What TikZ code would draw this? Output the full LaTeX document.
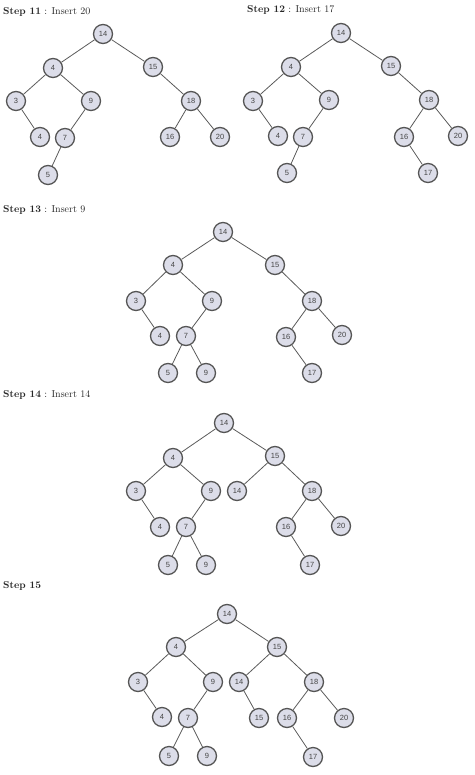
\documentclass[tikz,border=0pt]{standalone}
\usepackage{fontspec}
\newfontfamily\numfont{Liberation Sans}
\definecolor{nodefill}{HTML}{DCDDE9}
\definecolor{nodeline}{HTML}{555555}
\definecolor{edgecol}{HTML}{5A5A5A}
\definecolor{txtcol}{HTML}{444444}
\begin{document}
\begin{tikzpicture}[x=1pt,y=-1pt,
  bn/.style={circle,draw=nodeline,fill=nodefill,line width=1.3pt,minimum size=19pt,inner sep=0pt,
    font=\numfont\fontsize{7.5}{8}\selectfont,text=txtcol},
  ed/.style={draw=edgecol,line width=0.8pt},
  ttl/.style={anchor=west,inner sep=0pt,font=\fontsize{10}{12}\selectfont,text=black!85}]
\useasboundingbox (0,0) rectangle (474,775);

% ---------- Step 11 ----------
\node[ttl] (t11) at (3,12) {\textbf{Step 11} : Insert 20};
\node[bn] (a14) at (103,34) {14};
\node[bn] (a4) at (53,68) {4};
\node[bn] (a15) at (153,67) {15};
\node[bn] (a3) at (16,101) {3};
\node[bn] (a9) at (91,101) {9};
\node[bn] (a18) at (191,101) {18};
\node[bn] (a4b) at (40,137) {4};
\node[bn] (a7) at (65,138) {7};
\node[bn] (a16) at (170,137) {16};
\node[bn] (a20) at (220,137) {20};
\node[bn] (a5) at (48,175) {5};
\draw[ed] (a14)--(a4) (a14)--(a15) (a4)--(a3) (a4)--(a9) (a3)--(a4b) (a9)--(a7) (a7)--(a5)
  (a15)--(a18) (a18)--(a16) (a18)--(a20);

% ---------- Step 12 ----------
\node[ttl] (t12) at (247,10) {\textbf{Step 12} : Insert 17};
\node[bn] (b14) at (341,33) {14};
\node[bn] (b4) at (291,67) {4};
\node[bn] (b15) at (391,66) {15};
\node[bn] (b3) at (253,101) {3};
\node[bn] (b9) at (329,100) {9};
\node[bn] (b18) at (429,100) {18};
\node[bn] (b4b) at (278,136) {4};
\node[bn] (b7) at (303,137) {7};
\node[bn] (b16) at (404,137) {16};
\node[bn] (b20) at (458,136) {20};
\node[bn] (b5) at (287,173) {5};
\node[bn] (b17) at (428,173) {17};
\draw[ed] (b14)--(b4) (b14)--(b15) (b4)--(b3) (b4)--(b9) (b3)--(b4b) (b9)--(b7) (b7)--(b5)
  (b15)--(b18) (b18)--(b16) (b18)--(b20) (b16)--(b17);

% ---------- Step 13 ----------
\node[ttl] (t13) at (3,210) {\textbf{Step 13} : Insert 9};
\node[bn] (c14) at (223,232) {14};
\node[bn] (c4) at (173,265) {4};
\node[bn] (c15) at (275,265) {15};
\node[bn] (c3) at (136,301) {3};
\node[bn] (c9) at (212,301) {9};
\node[bn] (c18) at (312,301) {18};
\node[bn] (c4b) at (160,336) {4};
\node[bn] (c7) at (186,336) {7};
\node[bn] (c16) at (286,337) {16};
\node[bn] (c20) at (342,335) {20};
\node[bn] (c5) at (168,373) {5};
\node[bn] (c9b) at (206,373) {9};
\node[bn] (c17) at (312,373) {17};
\draw[ed] (c14)--(c4) (c14)--(c15) (c4)--(c3) (c4)--(c9) (c3)--(c4b) (c9)--(c7) (c7)--(c5) (c7)--(c9b)
  (c15)--(c18) (c18)--(c16) (c18)--(c20) (c16)--(c17);

% ---------- Step 14 ----------
\node[ttl] (t14) at (3,395) {\textbf{Step 14} : Insert 14};
\node[bn] (d14) at (224,423) {14};
\node[bn] (d4) at (173,458) {4};
\node[bn] (d15) at (275,456) {15};
\node[bn] (d3) at (136,491) {3};
\node[bn] (d9) at (211,491) {9};
\node[bn] (d14b) at (237,491) {14};
\node[bn] (d18) at (312,491) {18};
\node[bn] (d4b) at (160,527) {4};
\node[bn] (d7) at (186,527) {7};
\node[bn] (d16) at (286,527) {16};
\node[bn] (d20) at (341,526) {20};
\node[bn] (d5) at (168,565) {5};
\node[bn] (d9b) at (206,565) {9};
\node[bn] (d17) at (310,565) {17};
\draw[ed] (d14)--(d4) (d14)--(d15) (d4)--(d3) (d4)--(d9) (d3)--(d4b) (d9)--(d7) (d7)--(d5) (d7)--(d9b)
  (d15)--(d14b) (d15)--(d18) (d18)--(d16) (d18)--(d20) (d16)--(d17);

% ---------- Step 15 ----------
\node[ttl] (t15) at (3,586) {\textbf{Step 15}};
\node[bn] (e14) at (227,614) {14};
\node[bn] (e4) at (176,647) {4};
\node[bn] (e15) at (277,647) {15};
\node[bn] (e3) at (138,682) {3};
\node[bn] (e9) at (213,682) {9};
\node[bn] (e14b) at (239,682) {14};
\node[bn] (e18) at (314,682) {18};
\node[bn] (e4b) at (162,717) {4};
\node[bn] (e7) at (188,718) {7};
\node[bn] (e15b) at (259,718) {15};
\node[bn] (e16) at (287,718) {16};
\node[bn] (e20) at (344,718) {20};
\node[bn] (e5) at (169,756) {5};
\node[bn] (e9b) at (207,756) {9};
\node[bn] (e17) at (313,757) {17};
\draw[ed] (e14)--(e4) (e14)--(e15) (e4)--(e3) (e4)--(e9) (e3)--(e4b) (e9)--(e7) (e7)--(e5) (e7)--(e9b)
  (e15)--(e14b) (e15)--(e18) (e14b)--(e15b) (e18)--(e16) (e18)--(e20) (e16)--(e17);
\end{tikzpicture}
\end{document}
